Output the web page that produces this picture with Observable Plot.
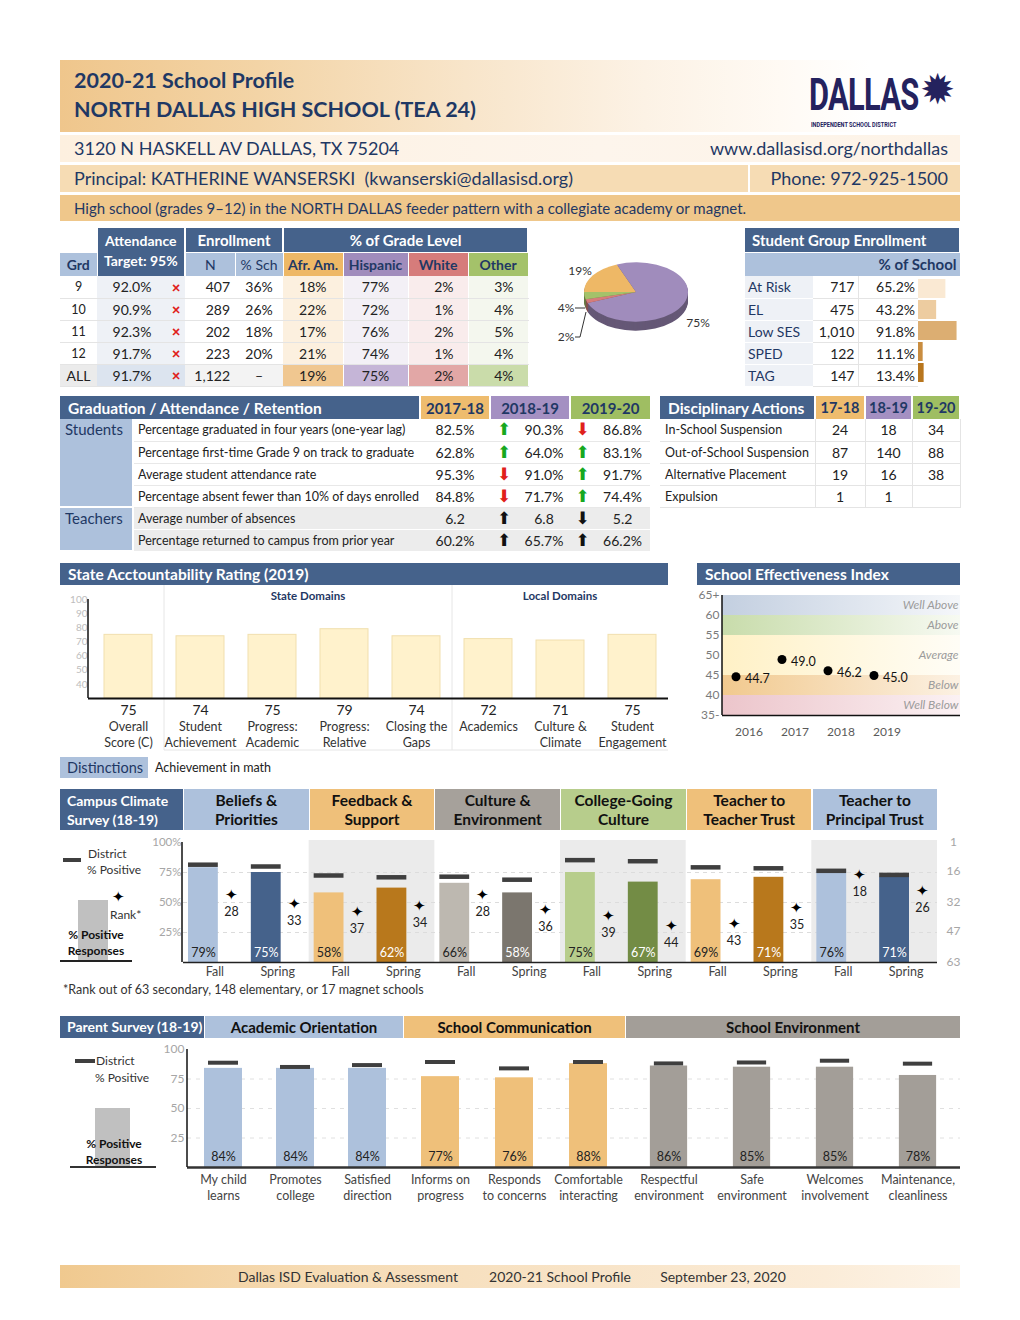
<!DOCTYPE html>
<html><head><meta charset="utf-8">
<script src="https://cdn.jsdelivr.net/npm/d3@7"></script>
<script src="https://cdn.jsdelivr.net/npm/@observablehq/plot@0.6"></script>
<style>
html,body{margin:0;padding:0;background:#fff;}
#page{position:relative;width:1020px;height:1320px;overflow:hidden;font-family:Lato,"Noto Sans",sans-serif;color:#222;}
.abs{position:absolute;box-sizing:border-box;}
table.t{position:absolute;border-collapse:collapse;table-layout:fixed;font-size:13.5px;}
table.t td{padding:0;overflow:hidden;white-space:nowrap;box-sizing:border-box;}
</style></head><body><div id="page"></div>
<script>
// ================= DATA =================
const schoolTitle = "2020-21 School Profile";
const schoolName = "NORTH DALLAS HIGH SCHOOL (TEA 24)";
const address = "3120 N HASKELL AV DALLAS, TX 75204";
const website = "www.dallasisd.org/northdallas";
const principal = "Principal: KATHERINE WANSERSKI\u00a0\u00a0(kwanserski@dallasisd.org)";
const phone = "Phone: 972-925-1500";
const description = "High school (grades 9–12) in the NORTH DALLAS feeder pattern with a collegiate academy or magnet.";

const grades = ["9", "10", "11", "12", "ALL"];
const attendance = [92.0, 90.9, 92.3, 91.7, 91.7];
const attendanceTarget = 95;
const enrollN = [407, 289, 202, 223, 1122];
const enrollPct = ["36%", "26%", "18%", "20%", "–"];
const races = ["Afr. Am.", "Hispanic", "White", "Other"];
const raceByGrade = [[18, 77, 2, 3], [22, 72, 1, 4], [17, 76, 2, 5], [21, 74, 1, 4], [19, 75, 2, 4]];
const raceColors = ["#eeb866", "#a08cbc", "#d67c7b", "#a4c26a"];

const groupNames = ["At Risk", "EL", "Low SES", "SPED", "TAG"];
const groupN = [717, 475, 1010, 122, 147];
const groupPct = [65.2, 43.2, 91.8, 11.1, 13.4];
const groupBarColors = ["#fae9d3", "#edcca0", "#dcae72", "#c98d40", "#b8761e"];

const gradYears = ["2017-18", "2018-19", "2019-20"];
const gradSections = ["Students", "Teachers"];
const gradSectionOf = [0, 0, 0, 0, 1, 1];
const gradMeasures = [
  "Percentage graduated in four years (one-year lag)",
  "Percentage first-time Grade 9 on track to graduate",
  "Average student attendance rate",
  "Percentage absent fewer than 10% of days enrolled",
  "Average number of absences",
  "Percentage returned to campus from prior year"];
const gradValues = [[82.5, 90.3, 86.8], [62.8, 64.0, 83.1], [95.3, 91.0, 91.7], [84.8, 71.7, 74.4], [6.2, 6.8, 5.2], [60.2, 65.7, 66.2]];
const gradIsPct = [true, true, true, true, false, true];

const discYears = ["17-18", "18-19", "19-20"];
const discActions = ["In-School Suspension", "Out-of-School Suspension", "Alternative Placement", "Expulsion"];
const discValues = [[24, 18, 34], [87, 140, 88], [19, 16, 38], [1, 1, null]];

const stateCats = ["Overall\nScore (C)", "Student\nAchievement", "Progress:\nAcademic", "Progress:\nRelative", "Closing the\nGaps", "Academics", "Culture &\nClimate", "Student\nEngagement"];
const stateScores = [75, 74, 75, 79, 74, 72, 71, 75];
const stateTicks = [40, 50, 60, 70, 80, 90, 100];
const stateSections = [
  {name: "State Domains", from: "Student\nAchievement", to: "Closing the\nGaps"},
  {name: "Local Domains", from: "Academics", to: "Student\nEngagement"}];
const distinction = "Achievement in math";

const seiYears = ["2016", "2017", "2018", "2019"];
const seiValues = [44.7, 49.0, 46.2, 45.0];
const seiBands = ["Well Above", "Above", "Average", "Below", "Well Below"];
const seiBandLo = [60, 55, 45, 40, 35];
const seiBandHi = [65, 60, 55, 45, 40];
const seiBandColors = [["#c3cfe0", "#f5f7fa"], ["#c8dcab", "#f7faf2"], ["#fff1c6", "#fffdf6"], ["#f1c98e", "#fcf1e3"], ["#ecc5cb", "#fbf1f3"]];
const seiTicks = [35, 40, 45, 50, 55, 60, 65];
const seiTickLabels = ["35-", "40", "45", "50", "55", "60", "65+"];

const climateGroups = ["Beliefs &\nPriorities", "Feedback &\nSupport", "Culture &\nEnvironment", "College-Going\nCulture", "Teacher to\nTeacher Trust", "Teacher to\nPrincipal Trust"];
const climateHeaderFill = ["#adc1dc", "#efc07a", "#a6a19b", "#b7cd8c", "#efc07a", "#adc1dc"];
const seasons = ["Fall", "Spring"];
const climateSchool = [[79, 75], [58, 62], [66, 58], [75, 67], [69, 71], [76, 71]];
const climateDistrict = [[81.5, 80], [72.5, 71], [71.5, 69], [85.3, 84.4], [79.3, 78.5], [76.4, 73]];
const climateRank = [[28, 33], [37, 34], [28, 36], [39, 44], [43, 35], [18, 26]];
const climateFill = [["#adc1dc", "#45628b"], ["#efc07a", "#b8781c"], ["#bdb8b0", "#7b766e"], ["#b7cd8c", "#738c45"], ["#efc07a", "#b8781c"], ["#adc1dc", "#45628b"]];
const rankTicks = [1, 16, 32, 47, 63];
const rankMax = 63;
const climateNote = "*Rank out of 63 secondary, 148 elementary, or 17 magnet schools";

const parentGroups = ["Academic Orientation", "School Communication", "School Environment"];
const parentItems = [["My child\nlearns", "Promotes\ncollege", "Satisfied\ndirection"], ["Informs on\nprogress", "Responds\nto concerns", "Comfortable\ninteracting"], ["Respectful\nenvironment", "Safe\nenvironment", "Welcomes\ninvolvement", "Maintenance,\ncleanliness"]];
const parentSchool = [[84, 84, 84], [77, 76, 88], [86, 85, 85, 78]];
const parentDistrict = [[88.8, 85.2, 86.8], [89.4, 84.0, 89.4], [88.2, 89.0, 90.5, 88.0]];
const parentFill = ["#adc1dc", "#efc07a", "#a39e98"];

const footerTexts = ["Dallas ISD Evaluation & Assessment", "2020-21 School Profile", "September 23, 2020"];

// ================= HELPERS =================
const page = document.getElementById("page");
const navy = "#1f3864", darkBlue = "#45628b", lightBlue = "#adc1dc";
const yearFill = ["#eebc6e", "#a490c2", "#9fbe62"];
const FONT = "Lato, 'Noto Sans', sans-serif";
function div(x, y, w, h, css, text, html) {
  const d = document.createElement("div");
  d.className = "abs";
  d.style.cssText = `left:${x}px;top:${y}px;` + (w != null ? `width:${w}px;` : "") + (h != null ? `height:${h}px;` : "") + (css || "");
  if (html != null) d.innerHTML = html; else if (text != null) d.textContent = text;
  page.appendChild(d);
  return d;
}
function table(x, y, widths, rows) {
  const t = document.createElement("table");
  t.className = "t";
  t.style.left = x + "px"; t.style.top = y + "px";
  t.style.width = widths.reduce((a, b) => a + b, 0) + "px";
  const cg = document.createElement("colgroup");
  widths.forEach(w => { const c = document.createElement("col"); c.style.width = w + "px"; cg.appendChild(c); });
  t.appendChild(cg);
  rows.forEach(r => {
    const tr = document.createElement("tr");
    tr.style.height = r.h + "px";
    r.cells.forEach(c => {
      const td = document.createElement("td");
      if (c.span) td.colSpan = c.span;
      if (c.rowspan) td.rowSpan = c.rowspan;
      td.style.cssText = `height:${r.h}px;` + (c.css || "");
      if (c.node) td.appendChild(c.node);
      else if (c.html != null) td.innerHTML = c.html;
      else td.textContent = c.text ?? "";
      tr.appendChild(td);
    });
    t.appendChild(tr);
  });
  page.appendChild(t);
  return t;
}
function place(node, x, y) {
  const d = div(x, y, null, null, "");
  d.appendChild(node);
  return d;
}
const hdDark = `background:${darkBlue};color:#fff;font-weight:700;font-size:15px;text-align:center;border-right:2px solid #fff;`;
const hdLight = `background:${lightBlue};color:${navy};font-size:14px;text-align:center;border-right:1px solid #fff;border-top:1px solid #fff;`;
const rowLine = "border-bottom:1px solid #e4e4e4;";
const fmtPct1 = v => v.toFixed(1) + "%";
const baseStyle = {fontFamily: FONT, fontSize: "12px", background: "transparent", overflow: "visible", color: "#222"};

function svgLine(x1, y1, x2, y2, stroke, w) {
  const l = document.createElementNS("http://www.w3.org/2000/svg", "line");
  l.setAttribute("x1", x1); l.setAttribute("y1", y1); l.setAttribute("x2", x2); l.setAttribute("y2", y2);
  l.setAttribute("stroke", stroke); l.setAttribute("stroke-width", w);
  return l;
}
// vertical axis line at the left of the frame
const leftAxisLine = (offset = 0, stroke = "#111", w = 1.5) => (index, scales, values, dims) =>
  svgLine(dims.marginLeft + offset, dims.marginTop, dims.marginLeft + offset, dims.height - dims.marginBottom, stroke, w);

// ================= HEADER =================
div(60, 60, 900, 72, "background:linear-gradient(90deg,#efc68c 0%,#f3d4a6 22%,#f8e5ca 45%,#fcf2e5 65%,#fffaf4 80%,#fff 90%);");
div(74, 65, 600, 30, `font-size:21.5px;font-weight:700;color:${navy};line-height:30px;`, schoolTitle);
div(74, 94, 600, 30, `font-size:21.5px;font-weight:700;color:${navy};line-height:30px;`, schoolName);
div(809, 78, 120, 34, "font-family:Roboto,sans-serif;font-weight:700;font-size:44px;line-height:34px;color:#24225e;transform:scaleX(0.7);transform-origin:left top;letter-spacing:-1px;overflow:visible;", "DALLAS");
div(811, 121, 160, 7, "font-family:Roboto,sans-serif;font-weight:700;font-size:7.5px;line-height:7px;color:#24225e;transform:scaleX(0.74);transform-origin:left top;", "INDEPENDENT SCHOOL DISTRICT");
div(920, 66, 44, 44, "font-size:42px;line-height:44px;color:#24225e;", "✹");

div(60, 135, 900, 27, "background:linear-gradient(90deg,#fdf0df,#fdf5ec 60%,#fdf3e7);");
div(74, 135, 500, 27, `font-size:18px;line-height:27px;color:${navy};`, address);
div(600, 135, 348, 27, `font-size:18px;line-height:27px;color:${navy};text-align:right;`, website);
div(60, 165, 688, 27, "background:#f6dcb4;");
div(750, 165, 210, 27, "background:#f6dcb4;");
div(74, 165, 670, 27, `font-size:18px;line-height:27px;color:${navy};`, principal);
div(750, 165, 198, 27, `font-size:18px;line-height:27px;color:${navy};text-align:right;`, phone);
div(60, 195, 900, 26, "background:#efc78b;");
div(74, 195, 880, 26, `font-size:15px;line-height:26px;color:${navy};`, description);

// ================= ENROLLMENT TABLE =================
const raceTint = ["#fcf0df", "#f3f0f6", "#f9ecec", "#f4f7ee"];
const raceTintAll = ["#f0c790", "#c5b5d7", "#e2a7a6", "#cadcaa"];
const enrRows = [
  {h: 24, cells: [
    {css: "background:#fff;"},
    {html: "Attendance<br>Target: 95%", span: 2, rowspan: 2, css: hdDark + "line-height:1.45;font-size:14px;vertical-align:top;padding-top:3px;"},
    {text: "Enrollment", span: 2, css: hdDark},
    {text: "% of Grade Level", span: 4, css: hdDark}]},
  {h: 24, cells: [
    {text: "Grd", css: hdLight + "font-weight:700;"},
    {text: "N", css: hdLight},
    {text: "% Sch", css: hdLight},
    ...races.map((r, i) => ({text: r, css: `background:${raceColors[i]};color:${navy};font-weight:700;font-size:14px;text-align:center;border-right:1px solid #fff;border-top:1px solid #fff;`}))]},
  ...grades.map((g, i) => {
    const all = i === grades.length - 1;
    return {h: 22, cells: [
      {text: g, css: rowLine + `text-align:center;font-size:${all ? 14 : 12.5}px;background:${all ? "#ebebeb" : "#fff"};`},
      {text: fmtPct1(attendance[i]), css: rowLine + `text-align:center;font-size:14px;background:${all ? "#dce4ef" : "#eef1f6"};`},
      {text: attendance[i] < attendanceTarget ? "×" : "✓", css: rowLine + `text-align:center;font-size:15px;font-weight:900;color:#e0201b;background:${all ? "#dce4ef" : "#eef1f6"};`},
      {text: enrollN[i].toLocaleString("en-US"), css: rowLine + `text-align:right;padding-right:5px;font-size:14px;background:${all ? "#f3f3f3" : "#fff"};`},
      {text: enrollPct[i], css: rowLine + `text-align:center;font-size:14px;background:${all ? "#f3f3f3" : "#fff"};`},
      ...raceByGrade[i].map((v, j) => ({text: v + "%", css: rowLine + `font-size:14px;text-align:${j < 2 ? "center" : "right"};padding-right:${j < 2 ? 0 : 14}px;background:${all ? raceTintAll[j] : raceTint[j]};border-right:1px solid #fff;`}))]};
  })];
table(60, 228, [37, 70, 18, 50, 48, 60, 65, 60, 60], enrRows);

// ================= PIE =================
const raceAll = raceByGrade[raceByGrade.length - 1];
function pieMark(index, scales, values, dims) {
  const cx = 81, cy = 38, r = 52, k = 0.57, depth = 9;
  const arcs = d3.pie().sort(null).startAngle(Math.PI * 1.5).endAngle(Math.PI * 3.5)(raceAll);
  const arc = d3.arc().innerRadius(0).outerRadius(r);
  const g = d3.create("svg:g");
  for (let t = depth; t >= 1; t--) {
    g.append("g").attr("transform", `translate(${cx},${cy + t}) scale(1,${k})`)
      .selectAll("path").data(arcs).join("path").attr("d", arc)
      .attr("fill", (d, i) => d3.color(raceColors[i]).darker(1.3));
  }
  g.append("g").attr("transform", `translate(${cx},${cy}) scale(1,${k})`)
    .selectAll("path").data(arcs).join("path").attr("d", arc).attr("fill", (d, i) => raceColors[i]);
  const small = [];
  arcs.forEach((a, i) => {
    const mid = (a.startAngle + a.endAngle) / 2;
    const pct = raceAll[i] + "%";
    if (raceAll[i] >= 10) {
      const x = cx + 1.3 * r * Math.sin(mid);
      const y = cy - 1.3 * r * Math.cos(mid) * k + (Math.cos(mid) < 0 ? depth + 6 : 0);
      g.append("text").attr("x", x).attr("y", y).attr("text-anchor", "middle").attr("dy", "0.35em")
        .attr("font-size", 12).attr("fill", "#333").text(pct);
    } else small.push({i, mid, pct, ey: cy - r * Math.cos(mid) * k});
  });
  small.sort((a, b) => a.ey - b.ey);
  small.forEach((s, j) => {
    const ly = cy + 16 + j * 29;
    const lx = cx - r - 18;
    g.append("text").attr("x", lx).attr("y", ly).attr("text-anchor", "middle").attr("dy", "0.35em")
      .attr("font-size", 12).attr("fill", "#333").text(s.pct);
    const pts = j === 0 ? [[lx + 9, ly], [cx - r + 1, ly]] : [[lx + 9, ly], [lx + 14, ly], [cx - r + 2, cy + 20]];
    g.append("polyline").attr("points", pts.map(p => p.join(",")).join(" ")).attr("fill", "none").attr("stroke", "#333").attr("stroke-width", 1);
  });
  return g.node();
}
place(Plot.plot({width: 170, height: 100, margin: 0, style: baseStyle, marks: [pieMark]}), 555, 254);

// ================= STUDENT GROUP TABLE =================
const groupBars = Plot.plot({
  width: 42, height: 110, margin: 0, style: baseStyle,
  x: {domain: [0, 100], range: [0, 42], axis: null},
  y: {domain: groupNames, padding: 0.08, axis: null},
  marks: [Plot.barX(groupNames, {x1: 0, x2: (d, i) => groupPct[i], y: d => d, fill: (d, i) => groupBarColors[i]})]
});
const sgRows = [
  {h: 24, cells: [{text: "Student Group Enrollment", span: 4, css: hdDark + "text-align:left;padding-left:7px;"}]},
  {h: 24, cells: [{text: "% of School", span: 4, css: hdLight + "text-align:right;font-weight:700;padding-right:3px;font-size:15px;"}]},
  ...groupNames.map((g, i) => ({h: 22, cells: [
    {text: g, css: `background:#eef1f6;color:${navy};font-size:14px;padding-left:3px;border-bottom:1px solid #fff;`},
    {text: groupN[i].toLocaleString("en-US"), css: rowLine + "text-align:right;padding-right:3px;font-size:14px;border-right:1px solid #e4e4e4;"},
    {text: fmtPct1(groupPct[i]), css: rowLine + "text-align:right;padding-right:3px;font-size:14px;"},
    ...(i === 0 ? [{node: groupBars, rowspan: groupNames.length, css: "vertical-align:top;line-height:0;"}] : [])]}))];
table(745, 228, [68, 45, 60, 42], sgRows);

// ================= GRADUATION TABLE =================
function arrow(a, b, teacher) {
  const up = b > a;
  const color = teacher ? "#111" : (up ? "#17a81f" : "#e0201b");
  return {text: up ? "⬆" : "⬇", css: `text-align:center;font-size:17px;line-height:17px;color:${color};font-family:'DejaVu Sans',sans-serif;`};
}
const gradRows = [
  {h: 23, cells: [
    {text: "Graduation / Attendance / Retention", span: 2, css: hdDark + "text-align:left;padding-left:8px;font-size:15.5px;"},
    {text: gradYears[0], css: `background:${yearFill[0]};color:${navy};font-weight:700;font-size:15px;text-align:center;border-right:2px solid #fff;`},
    {text: gradYears[1], span: 2, css: `background:${yearFill[1]};color:${navy};font-weight:700;font-size:15px;text-align:center;border-right:2px solid #fff;`},
    {text: gradYears[2], span: 2, css: `background:${yearFill[2]};color:${navy};font-weight:700;font-size:15px;text-align:center;`}]},
  ...gradMeasures.map((m, i) => {
    const sec = gradSectionOf[i];
    const first = i === 0 || gradSectionOf[i - 1] !== sec;
    const bg = sec === 1 ? "#ececec" : "#fff";
    const v = gradValues[i];
    const f = x => gradIsPct[i] ? fmtPct1(x) : x.toFixed(1);
    const cells = [];
    if (first) cells.push({text: gradSections[sec], rowspan: gradSectionOf.filter(s => s === sec).length,
      css: `background:${lightBlue};color:${navy};font-size:15px;vertical-align:top;padding:1px 0 0 5px;border-bottom:2px solid #fff;`});
    const cs = `background:${bg};border-bottom:1px solid ${sec === 1 ? "#fff" : "#e8e8e8"};`;
    cells.push({text: m, css: cs + "font-size:12.5px;padding-left:4px;border-left:2px solid #fff;"});
    cells.push({text: f(v[0]), css: cs + "text-align:center;font-size:14px;"});
    const a1 = arrow(v[0], v[1], sec === 1); a1.css += cs; cells.push(a1);
    cells.push({text: f(v[1]), css: cs + "text-align:center;font-size:14px;"});
    const a2 = arrow(v[1], v[2], sec === 1); a2.css += cs; cells.push(a2);
    cells.push({text: f(v[2]), css: cs + "text-align:center;font-size:14px;"});
    return {h: 22, cells};
  })];
table(60, 396, [73, 287, 70, 28, 52, 25, 55], gradRows);

// ================= DISCIPLINARY TABLE =================
const discRows = [
  {h: 23, cells: [
    {text: "Disciplinary Actions", css: hdDark + "text-align:left;padding-left:8px;font-size:15.5px;"},
    ...discYears.map((y, i) => ({text: y, css: `background:${yearFill[i]};color:${navy};font-weight:700;font-size:14.5px;text-align:center;border-right:2px solid #fff;`}))]},
  ...discActions.map((a, i) => ({h: 22, cells: [
    {text: a, css: rowLine + "font-size:12.5px;padding-left:5px;border-right:1px solid #e4e4e4;"},
    ...discValues[i].map(v => ({text: v == null ? "" : String(v), css: rowLine + "text-align:center;font-size:14px;border-right:1px solid #e4e4e4;"}))]}))];
table(660, 396, [155, 50, 47, 48], discRows);

// ================= STATE ACCOUNTABILITY =================
div(60, 563, 608, 22, `background:${darkBlue};color:#fff;font-weight:700;font-size:15.5px;line-height:22px;padding-left:8px;`, "State Acctountability Rating (2019)");
function sectionMark(index, scales, values, dims) {
  const x = scales.x, bw = x.bandwidth();
  const step = x(stateCats[1]) - x(stateCats[0]);
  const gap = step - bw;
  const g = d3.create("svg:g");
  const bottom = dims.height - 7;
  let minLeft = Infinity, maxRight = -Infinity;
  stateSections.forEach(s => {
    const left = x(s.from) - gap / 2, right = x(s.to) + bw + gap / 2;
    minLeft = Math.min(minLeft, left); maxRight = Math.max(maxRight, right);
    g.node().appendChild(svgLine(left, 0, left, bottom, "#e6e6e6", 1));
    g.append("text").attr("x", (left + right) / 2).attr("y", dims.marginTop + 1)
      .attr("text-anchor", "middle").attr("font-size", 11.5).attr("font-weight", 700).attr("fill", navy).text(s.name);
  });
  g.node().appendChild(svgLine(minLeft, bottom, maxRight, bottom, "#e6e6e6", 1));
  return g.node();
}
const stateChart = Plot.plot({
  width: 608, height: 172, marginLeft: 32, marginRight: 0, marginTop: 14, marginBottom: 59, style: baseStyle,
  x: {domain: stateCats, range: [32, 608], paddingInner: 1 / 3, paddingOuter: 1 / 6, axis: null},
  y: {domain: [30, 100]},
  marks: [
    sectionMark,
    Plot.barY(stateCats, {x: d => d, y1: 30, y2: (d, i) => stateScores[i], fill: "#fff2cc", stroke: "#f1dfae", strokeWidth: 1}),
    Plot.axisY(stateTicks, {tickSize: 0, tickPadding: 5, fill: "#bdbdbd", fontSize: 10}),
    leftAxisLine(-4, "#111", 1.5),
    Plot.ruleY([30], {stroke: "#111", strokeWidth: 2, insetLeft: -4}),
    Plot.text(stateCats, {x: d => d, y: 30, dy: 12, text: (d, i) => String(stateScores[i]), fontSize: 14, fill: "#222"}),
    Plot.text(stateCats, {x: d => d, y: 30, dy: 21, lineAnchor: "top", text: d => d, fontSize: 12.5, lineHeight: 1.3, fill: "#333"})
  ]
});
place(stateChart, 60, 585);
div(60, 757, 88, 21, `background:${lightBlue};color:${navy};font-size:14.5px;line-height:21px;padding-left:7px;`, "Distinctions");
div(155, 757, 300, 21, "font-size:12.5px;line-height:21px;color:#222;", distinction);

// ================= SCHOOL EFFECTIVENESS INDEX =================
div(697, 563, 263, 22, `background:${darkBlue};color:#fff;font-weight:700;font-size:15.5px;line-height:22px;padding-left:8px;`, "School Effectiveness Index");
const gradientDefs = () => {
  const defs = d3.create("svg:defs");
  seiBandColors.forEach((c, i) => {
    const lg = defs.append("linearGradient").attr("id", "seiG" + i).attr("x1", "0").attr("x2", "1").attr("y1", "0").attr("y2", "0");
    lg.append("stop").attr("offset", "0").attr("stop-color", c[0]);
    lg.append("stop").attr("offset", "1").attr("stop-color", c[1]);
  });
  return defs.node();
};
const seiTickLabel = new Map(seiTicks.map((t, i) => [t, seiTickLabels[i]]));
const seiChart = Plot.plot({
  width: 263, height: 160, marginLeft: 25, marginRight: 0, marginTop: 7, marginBottom: 33, style: baseStyle,
  x: {type: "band", domain: seiYears, range: [25, 217]},
  y: {domain: [35, 65]},
  marks: [
    gradientDefs,
    ...seiBands.map((b, i) => Plot.rect([b], {y1: () => seiBandLo[i], y2: () => seiBandHi[i], fill: `url(#seiG${i})`})),
    Plot.text(seiBands, {y: (d, i) => (seiBandLo[i] + seiBandHi[i]) / 2, frameAnchor: "right", textAnchor: "end", dx: -2, text: d => d, fontStyle: "italic", fill: "#9b9b9b", fontSize: 12}),
    Plot.axisY(seiTicks, {tickSize: 0, tickPadding: 3, tickFormat: d => seiTickLabel.get(d), fill: "#7a7a7a", fontSize: 12}),
    Plot.axisX({tickSize: 0, tickPadding: 12, fill: "#5a5a5a", fontSize: 12}),
    leftAxisLine(0, "#111", 1.5),
    Plot.ruleY([35], {stroke: "#111", strokeWidth: 1.5}),
    Plot.dot(seiYears, {x: d => d, y: (d, i) => seiValues[i], dx: -13, r: 4.5, fill: "#000"}),
    Plot.text(seiYears, {x: d => d, y: (d, i) => seiValues[i], dx: -4, dy: 2, textAnchor: "start", text: (d, i) => seiValues[i].toFixed(1), fontSize: 12.5, fill: "#111"})
  ]
});
place(seiChart, 697, 588);

// ================= CAMPUS CLIMATE =================
div(60, 789, 123, 41, `background:${darkBlue};color:#fff;font-weight:700;font-size:14px;line-height:19px;padding:2px 0 0 7px;`, null, "Campus Climate<br>Survey (18-19)");
climateGroups.forEach((g, i) => {
  div(184 + i * 125.7, 789, 124.7, 41, `background:${climateHeaderFill[i]};color:#111;font-weight:700;font-size:15.5px;line-height:19px;text-align:center;padding-top:2px;`, null, g.replace("\n", "<br>").replace("&", "&amp;"));
});
const climateRows = [];
climateGroups.forEach((g, gi) => seasons.forEach((s, si) => climateRows.push({
  g, gi, s, si, pct: climateSchool[gi][si], district: climateDistrict[gi][si], rank: climateRank[gi][si], fill: climateFill[gi][si]})));
const rankY = d3.scaleLinear().domain([1, rankMax]).range([100, 0]);
const cx1 = d => d.gi + d.si * 0.5, cx2 = d => d.gi + d.si * 0.5 + 0.5, cmid = d => d.gi + d.si * 0.5 + 0.25;
const climateChart = Plot.plot({
  width: 905, height: 146, marginLeft: 123, marginRight: 28, marginTop: 6, marginBottom: 20, style: baseStyle,
  x: {domain: [0, climateGroups.length], axis: null},
  y: {domain: [0, 100]},
  marks: [
    Plot.rect(climateGroups.filter((g, i) => i % 2 === 1), {x1: d => climateGroups.indexOf(d), x2: d => climateGroups.indexOf(d) + 1, y1: 0, y2: 100, insetTop: -2, fill: "#ebebeb"}),
    Plot.ruleY([25, 50, 75], {stroke: "#dcdcdc", strokeDasharray: "4,4"}),
    Plot.rectY(climateRows, {x1: cx1, x2: cx2, y1: 0, y2: "pct", fill: d => d.fill, insetLeft: 5, insetRight: 28}),
    Plot.ruleY(climateRows, {y: "district", x1: cx1, x2: cx2, insetLeft: 5, insetRight: 28, stroke: "#3f3f3f", strokeWidth: 4.5}),
    Plot.text(climateRows, {x: cmid, y: 0, dx: -11.5, dy: -10, text: d => d.pct + "%", fill: d => d.si ? "#fff" : "#222", fontSize: 12.5, fontWeight: d => d.si ? 700 : 400}),
    Plot.text(climateRows, {x: cmid, y: d => rankY(d.rank), dx: 16.5, text: () => "✦", fontSize: 15, fill: "#000"}),
    Plot.text(climateRows, {x: cmid, y: d => rankY(d.rank), dx: 16.5, dy: 17, text: d => String(d.rank), fontSize: 12.5, fill: "#222"}),
    Plot.text(climateRows, {x: cmid, y: 0, dy: 5, lineAnchor: "top", text: "s", fontSize: 12.5, fill: "#444"}),
    Plot.axisY([25, 50, 75, 100], {tickSize: 0, tickPadding: 2, tickFormat: d => d + "%", fill: "#a6a6a6", fontSize: 11.5}),
    Plot.axisY(rankTicks.map(rankY), {anchor: "right", tickSize: 0, tickPadding: 16, textAnchor: "middle", tickFormat: d => String(Math.round(rankY.invert(d))), fill: "#a6a6a6", fontSize: 12}),
    leftAxisLine(-1, "#111", 1.5),
    Plot.ruleY([0], {stroke: "#222", strokeWidth: 1.5})
  ]
});
place(climateChart, 60, 836);
// legend
div(63, 858, 18, 4, "background:#3f3f3f;");
div(88, 846, 90, 16, "font-size:12px;line-height:16px;color:#333;", "District");
div(87, 862, 90, 16, "font-size:12px;line-height:16px;color:#333;", "% Positive");
div(78, 900, 30, 62, "background:#c0c0c0;");
div(112, 886, 20, 20, "font-size:15px;line-height:20px;color:#000;", "✦");
div(110, 907, 50, 16, "font-size:12px;line-height:16px;color:#333;", "Rank*");
div(55, 927, 82, 34, "font-size:12px;line-height:16px;font-weight:700;color:#111;text-align:center;", null, "% Positive<br>Responses");
div(60, 960, 72, 2, "background:#222;");
div(63, 981, 500, 17, "font-size:12.5px;line-height:17px;color:#333;", climateNote);

// ================= PARENT SURVEY =================
div(60, 1016, 144, 22, `background:${darkBlue};color:#fff;font-weight:700;font-size:14px;line-height:22px;padding-left:7px;`, "Parent Survey (18-19)");
const parentHeadX = [204, 403, 625, 960];
parentGroups.forEach((g, i) => {
  div(parentHeadX[i] + 1, 1016, parentHeadX[i + 1] - parentHeadX[i] - 1, 22, `background:${parentFill[i]};color:#111;font-weight:700;font-size:15px;line-height:22px;text-align:center;`, g);
});
const parentChartX = [60, 403, 625], parentChartW = [343, 222, 335], parentMarginL = [127, 0, 0];
parentGroups.forEach((g, gi) => {
  const items = parentItems[gi];
  const plotW = parentChartW[gi] - parentMarginL[gi];
  const inset = (plotW / items.length - 38) / 2;
  const marks = [
    Plot.ruleY([25, 50, 75], {stroke: "#e0e0e0", strokeDasharray: "4,5"}),
    Plot.barY(items, {x: d => d, y: (d, i) => parentSchool[gi][i], fill: parentFill[gi], insetLeft: inset, insetRight: inset}),
    Plot.tickY(items, {x: d => d, y: (d, i) => parentDistrict[gi][i], stroke: "#3f3f3f", strokeWidth: 4, insetLeft: inset + 4, insetRight: inset + 4}),
    Plot.text(items, {x: d => d, y: 0, dy: -11, text: (d, i) => parentSchool[gi][i] + "%", fontSize: 12.5, fill: "#222"}),
    Plot.text(items, {x: d => d, y: 0, dy: 5, lineAnchor: "top", text: d => d, fontSize: 12.5, lineHeight: 1.3, fill: "#444"}),
    Plot.ruleY([0], {stroke: "#333", strokeWidth: 2.5})
  ];
  if (gi === 0) {
    marks.push(Plot.axisY([25, 50, 75, 100], {tickSize: 0, tickPadding: 3, fill: "#a6a6a6", fontSize: 12}));
    marks.push(leftAxisLine(0, "#111", 1.5));
  } else marks.push(Plot.axisY({ticks: []}));
  const chart = Plot.plot({
    width: parentChartW[gi], height: 165, marginLeft: parentMarginL[gi], marginRight: 0, marginTop: 7, marginBottom: 40, style: baseStyle,
    x: {domain: items, padding: 0, axis: null},
    y: {domain: [0, 100], axis: null},
    marks
  });
  place(chart, parentChartX[gi], 1042);
});
div(75, 1059, 20, 4, "background:#3f3f3f;");
div(96, 1053, 90, 16, "font-size:12px;line-height:16px;color:#333;", "District");
div(95, 1070, 90, 16, "font-size:12px;line-height:16px;color:#333;", "% Positive");
div(95, 1108, 35, 59, "background:#c0c0c0;");
div(70, 1136, 88, 34, "font-size:12px;line-height:16px;font-weight:700;color:#111;text-align:center;", null, "% Positive<br>Responses");
div(70, 1166, 86, 2, "background:#333;");

// ================= FOOTER =================
div(60, 1265, 900, 23, "background:linear-gradient(90deg,#f0c98f,#f6dcb6 30%,#f8e4c8 60%,#fbecd8 85%,#fdf4e8);");
const footerCenters = [348, 560, 723];
footerTexts.forEach((t, i) => div(footerCenters[i] - 150, 1265, 300, 23, "font-size:14px;line-height:23px;color:#333;text-align:center;", t));
</script></body></html>
